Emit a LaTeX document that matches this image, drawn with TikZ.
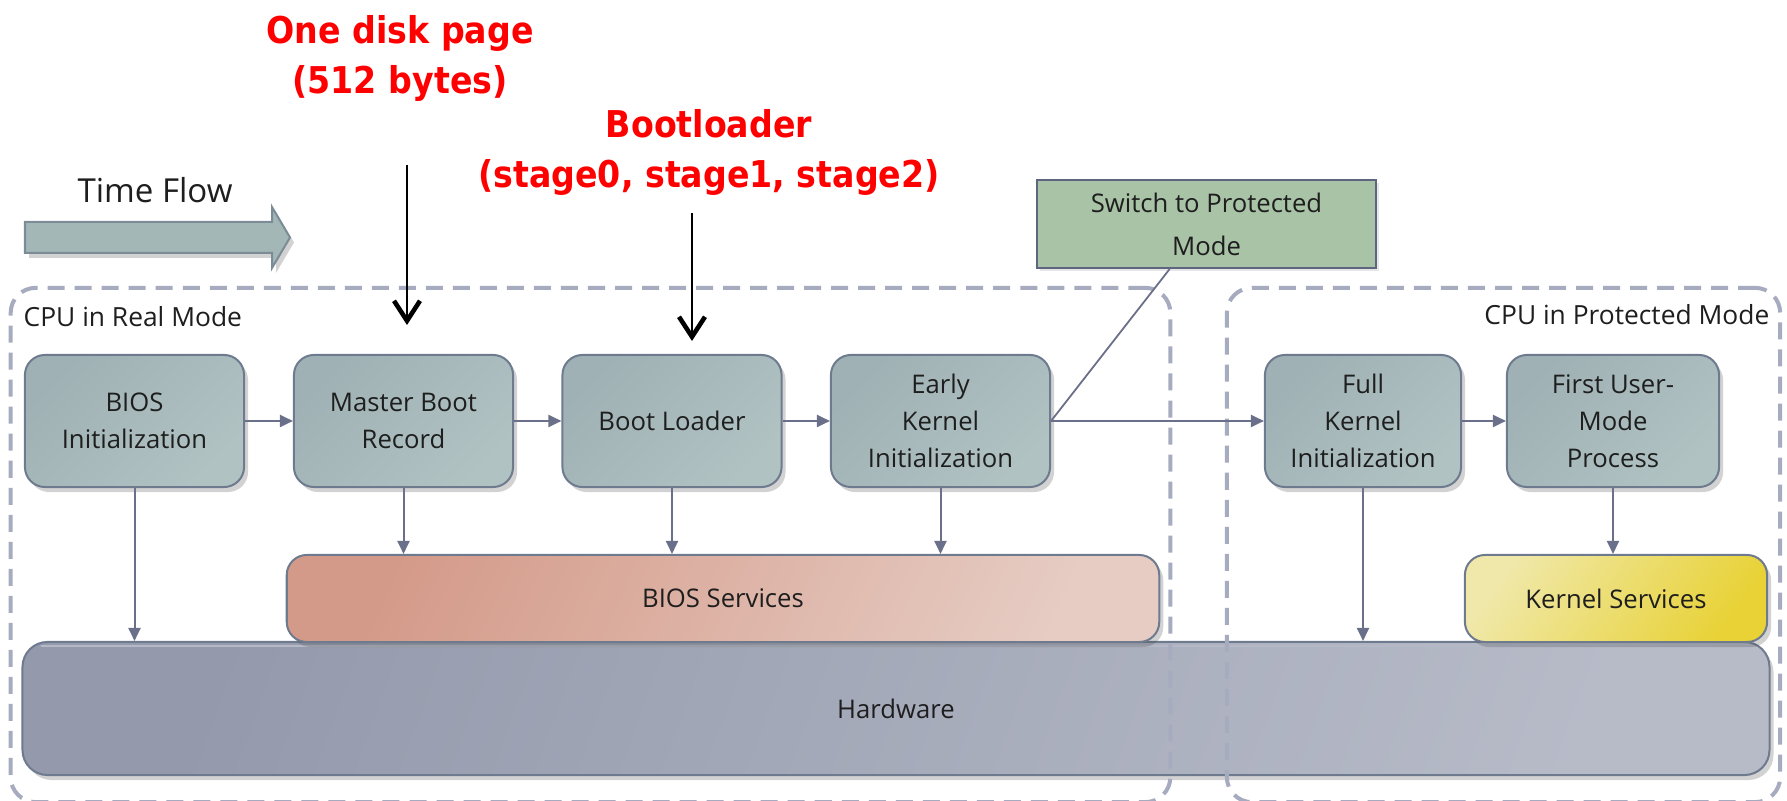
\documentclass[tikz,border=0pt]{standalone}
\usepackage{fontspec}
\setmainfont{Open Sans}
\newfontfamily\redfont{DejaVu Sans}[FakeStretch=0.9]
\usetikzlibrary{arrows.meta,shadows,calc}

\definecolor{stepA}{HTML}{9FB1B4}
\definecolor{stepB}{HTML}{B0C2C2}
\definecolor{stepline}{HTML}{6E7A8E}
\definecolor{biosA}{HTML}{D49A89}
\definecolor{biosB}{HTML}{E6CCC3}
\definecolor{kernA}{HTML}{F0E8AA}
\definecolor{kernB}{HTML}{E8D236}
\definecolor{hwA}{HTML}{949AAC}
\definecolor{hwB}{HTML}{B7BBC8}
\definecolor{hwtop}{HTML}{B4B9C8}
\definecolor{swfill}{HTML}{A9C3A7}
\definecolor{swline}{HTML}{5E6580}
\definecolor{connclr}{HTML}{6A7089}
\definecolor{dashclr}{HTML}{A7ABBF}
\definecolor{flowfill}{HTML}{A3B7B7}
\definecolor{flowline}{HTML}{7C8C96}
\definecolor{txt}{HTML}{1E1E1E}
\definecolor{hot}{HTML}{FF0000}

\begin{document}
\begin{tikzpicture}[x=0.01cm,y=-0.01cm,
  softshadow/.style={drop shadow={shadow xshift=0.04cm,shadow yshift=-0.05cm,opacity=0.25,fill=black!70}},
  stepbox/.style={draw=stepline, line width=0.02cm, rounded corners=0.2cm,
    minimum height=1.32cm, inner sep=0pt, align=center,
    left color=stepA, right color=stepB, shading angle=45,
    text=txt, font=\fontsize{7.3}{10.5}\selectfont, softshadow},
  svcbox/.style={draw=stepline, line width=0.02cm, rounded corners=0.2cm,
    minimum height=0.87cm, inner sep=0pt, text=txt,
    font=\fontsize{7.3}{10.5}\selectfont, softshadow},
  modebox/.style={draw=dashclr, line width=0.04cm, dash pattern=on 0.17cm off 0.1cm,
    rounded corners=0.25cm, inner sep=0pt},
  conn/.style={draw=connclr, line width=0.02cm, -{Triangle[length=0.13cm,width=0.12cm]}},
  plainline/.style={draw=connclr, line width=0.018cm},
  redarr/.style={draw=black, line width=0.022cm, -{Straight Barb[length=0.2cm,width=0.26cm,line width=1.3pt]}},
  redlabel/.style={text=hot, align=center, inner sep=0pt, anchor=north,
    font=\redfont\bfseries\fontsize{10.5}{14.2}\selectfont},
  modelabel/.style={text=txt, inner sep=0pt, font=\fontsize{7.5}{9}\selectfont}
]
\useasboundingbox (0,0) rectangle (1787,801);

% time flow arrow
\draw[draw=flowline, fill=flowfill, line width=0.02cm, softshadow]
  (25,222) -- (272,222) -- (272,207) -- (290,237.5) -- (272,268) -- (272,253) -- (25,253) -- cycle;
\node[text=txt, inner sep=0pt, anchor=base, font=\fontsize{9.4}{11}\selectfont] (timeflow) at (155,203) {Time Flow};

% annotations
\node[redlabel] (diskpage) at (400,15) {One disk page\\(512 bytes)};
\node[redlabel] (bootnote) at (709,109) {Bootloader\\(stage0, stage1, stage2)};

% hardware and service layers
\node[svcbox, minimum width=17.46cm, minimum height=1.33cm, rounded corners=0.25cm,
  left color=hwA, right color=hwB, shading angle=70] (hw) at (896,708.5) {Hardware};
\draw[hwtop, line width=0.025cm, line cap=round]
  ([xshift=0.2cm,yshift=-0.05cm]hw.north west) -- ([xshift=-0.2cm,yshift=-0.05cm]hw.north east);
\node[svcbox, minimum width=8.72cm, left color=biosA, right color=biosB, shading angle=65]
  (biossvc) at (723,598.5) {BIOS Services};
\node[svcbox, minimum width=3.02cm, left color=kernA, right color=kernB, shading angle=55]
  (kernsvc) at (1616,598.5) {Kernel Services};

% boot stages
\node[stepbox, minimum width=2.19cm] (bios)  at (134.5,421) {BIOS\\Initialization};
\node[stepbox, minimum width=2.19cm] (mbr)   at (403.5,421) {Master Boot\\Record};
\node[stepbox, minimum width=2.19cm] (boot)  at (672,421)   {Boot Loader};
\node[stepbox, minimum width=2.19cm] (early) at (940.5,421) {Early\\Kernel\\Initialization};
\node[stepbox, minimum width=1.96cm] (full)  at (1363,421)  {Full\\Kernel\\Initialization};
\node[stepbox, minimum width=2.12cm] (first) at (1613,421)  {First User-\\Mode\\Process};

% mode switch note
\node[draw=swline, fill=swfill, line width=0.02cm, minimum width=3.39cm, minimum height=0.88cm,
  inner sep=0pt, align=center, text=txt, font=\fontsize{7.3}{12.2}\selectfont,
  drop shadow={shadow xshift=0.03cm,shadow yshift=-0.03cm,opacity=0.2}]
  (switch) at (1206.5,224) {Switch to Protected\\Mode};

% CPU mode regions
\node[modebox, minimum width=11.59cm, minimum height=5.14cm] (real) at (590.5,545) {};
\node[modebox, minimum width=5.53cm, minimum height=5.14cm] (prot) at (1503.5,545) {};
\node[modelabel, anchor=base west] (reallabel) at (23,327) {CPU in Real Mode};
\node[modelabel, anchor=base east] (protlabel) at (1770,325) {CPU in Protected Mode};

% flow between stages
\draw[conn] (bios) -- (mbr);
\draw[conn] (mbr) -- (boot);
\draw[conn] (boot) -- (early);
\draw[conn] (early) -- (full);
\draw[conn] (full) -- (first);

% calls down into services and hardware
\draw[conn] (bios.south) -- (bios.south |- hw.north);
\draw[conn] (mbr.south) -- (mbr.south |- biossvc.north);
\draw[conn] (boot.south) -- (boot.south |- biossvc.north);
\draw[conn] (early.south) -- (early.south |- biossvc.north);
\draw[conn] (full.south) -- (full.south |- hw.north);
\draw[conn] (first.south) -- (first.south |- kernsvc.north);

% note leader
\coordinate (swfoot) at ($(switch.south west)!0.392!(switch.south east)$);
\draw[plainline] (swfoot) -- (early.east);

% annotation pointers
\coordinate (diskfrom) at (407,165);
\coordinate (diskto) at (407,325);
\coordinate (bootfrom) at (692,213);
\coordinate (bootto) at (692,341);
\draw[redarr] (diskfrom) -- (diskto);
\draw[redarr] (bootfrom) -- (bootto);
\end{tikzpicture}
\end{document}
